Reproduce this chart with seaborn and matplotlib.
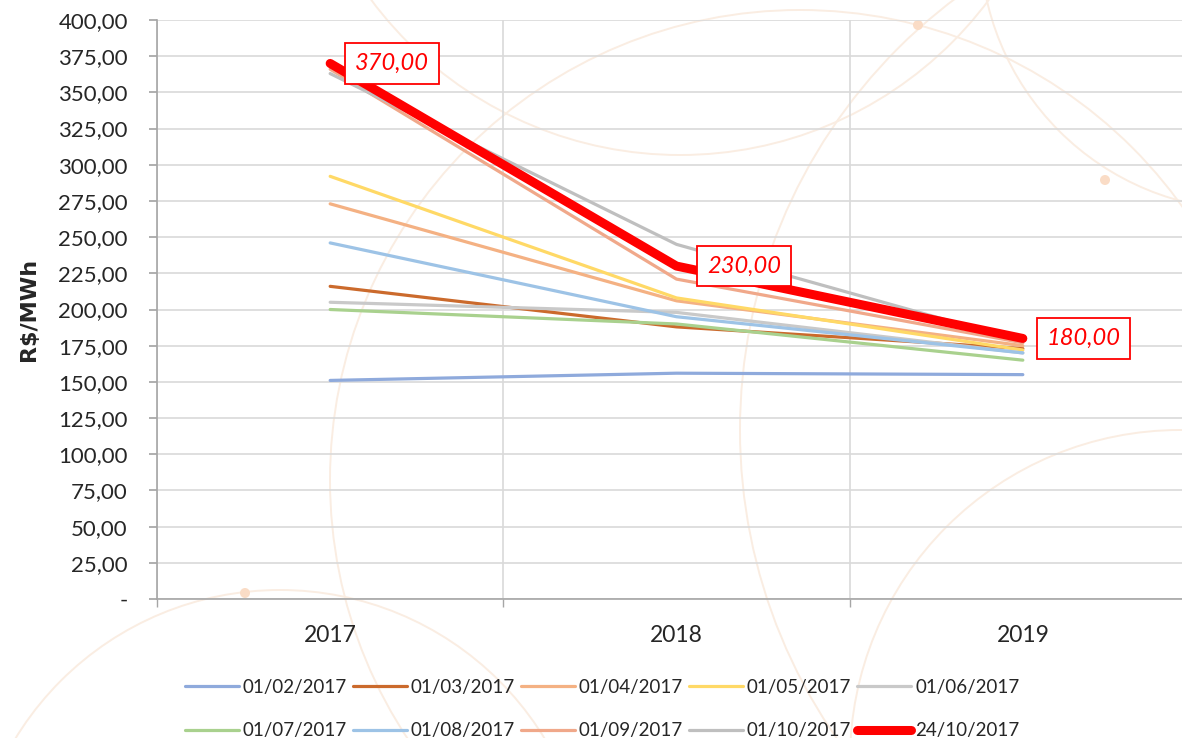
import matplotlib
matplotlib.use('Agg')
import matplotlib.pyplot as plt
from matplotlib.patches import Circle
from matplotlib.ticker import FuncFormatter
import pandas as pd
import seaborn as sns

# Dados
anos = ["2017", "2018", "2019"]
series = ["01/02/2017", "01/03/2017", "01/04/2017", "01/05/2017", "01/06/2017",
          "01/07/2017", "01/08/2017", "01/09/2017", "01/10/2017", "24/10/2017"]
v_0102 = [151, 156, 155]
v_0103 = [216, 188, 173]
v_0104 = [273, 206, 175]
v_0105 = [292, 208, 172]
v_0106 = [205, 198, 170]
v_0107 = [200, 190, 165]
v_0108 = [246, 195, 170]
v_0109 = [366, 221, 177]
v_0110 = [363, 245, 178]
v_2410 = [370, 230, 180]
valores = [v_0102, v_0103, v_0104, v_0105, v_0106, v_0107, v_0108, v_0109, v_0110, v_2410]
cores = ["#8FAADC", "#CB6A2C", "#F4B183", "#FFD966", "#C9C9C9",
         "#A9D18E", "#9DC3E6", "#F0A88A", "#BFBFBF", "#FF0000"]

df = pd.DataFrame([(s, i, v) for s, vals in zip(series, valores) for i, v in enumerate(vals)],
                  columns=["serie", "ano", "valor"])

sns.set_theme(style="white")
plt.rcParams['font.family'] = ['Lato', 'DejaVu Sans']

W, H = 1182, 738
fig = plt.figure(figsize=(W / 100, H / 100), dpi=100)

# fundo decorativo (circulos claros), em pixels
bg = fig.add_axes([0, 0, 1, 1], zorder=-1)
bg.set_xlim(0, W)
bg.set_ylim(H, 0)
bg.axis("off")
for (cx, cy, r) in [(1280, 430, 540), (680, -230, 385), (800, 480, 470),
                    (280, 900, 310), (1180, 760, 330), (1250, -60, 270)]:
    bg.add_patch(Circle((cx, cy), r, fill=False, edgecolor="#FAEDE2", linewidth=1.4))
for (cx, cy) in [(918, 25), (1105, 180), (245, 593)]:
    bg.add_patch(Circle((cx, cy), 5, facecolor="#FADCC6", edgecolor="none"))

ax = fig.add_axes([157 / W, 139 / H, 1039 / W, 579 / H])
ax.patch.set_alpha(0)

for s, c in zip(series, cores):
    lw = 6.5 if s == "24/10/2017" else 2.3
    sns.lineplot(data=df[df["serie"] == s], x="ano", y="valor", color=c, linewidth=lw,
                 label=s, ax=ax, solid_capstyle="round", zorder=3 if s == "24/10/2017" else 2)

# rotulos da ultima serie
offs = [18, 22, 17]
for i, v in enumerate(v_2410):
    ax.annotate(f"{v:.2f}".replace(".", ","), (i, v), xytext=(offs[i], 0), textcoords="offset points",
                ha="left", va="center", color="#FF0000", fontsize=17, fontstyle="italic",
                bbox=dict(boxstyle="square,pad=0.42", fc="white", ec="#FF0000", lw=1.3), zorder=5)

ax.set_xlim(-0.5, 2.5)
ax.set_ylim(0, 400)
ax.set_yticks(range(0, 401, 25))
ax.yaxis.set_major_formatter(FuncFormatter(lambda v, p: "-" if v == 0 else f"{v:.2f}".replace(".", ",")))
ax.set_xticks([0, 1, 2])
ax.set_xticklabels(anos)
ax.set_xticks([-0.5, 0.5, 1.5], minor=True)
ax.tick_params(axis="x", which="major", length=0, pad=19, labelsize=16.5)
ax.tick_params(axis="x", which="minor", length=6, color="#A6A6A6", direction="out", bottom=True)
ax.tick_params(axis="y", length=6, color="#A6A6A6", direction="out", left=True, labelsize=16, pad=15)
ax.grid(axis="y", color="#D9D9D9", linewidth=1.2)
ax.grid(axis="x", which="minor", color="#D9D9D9", linewidth=1.2)
ax.set_axisbelow(True)
for sp in ["top", "right"]:
    ax.spines[sp].set_visible(False)
for sp in ["left", "bottom"]:
    ax.spines[sp].set_color("#A6A6A6")
    ax.spines[sp].set_linewidth(1.2)
ax.set_xlabel("")
ax.set_ylabel("R$/MWh", fontsize=16, fontweight="bold", family="DejaVu Sans", labelpad=14)

# legenda em duas linhas
h, l = ax.get_legend_handles_labels()
ordem = [0, 5, 1, 6, 2, 7, 3, 8, 4, 9]
ax.legend([h[i] for i in ordem], [l[i] for i in ordem], ncol=5, frameon=False,
          loc="center", bbox_to_anchor=(602 / W, 1 - 709 / H), bbox_transform=fig.transFigure,
          fontsize=13.5, handlelength=2.9, handletextpad=0.2, columnspacing=0.3, labelspacing=1.4)

plt.savefig("out.png", dpi=100, facecolor="white")
plt.close()
